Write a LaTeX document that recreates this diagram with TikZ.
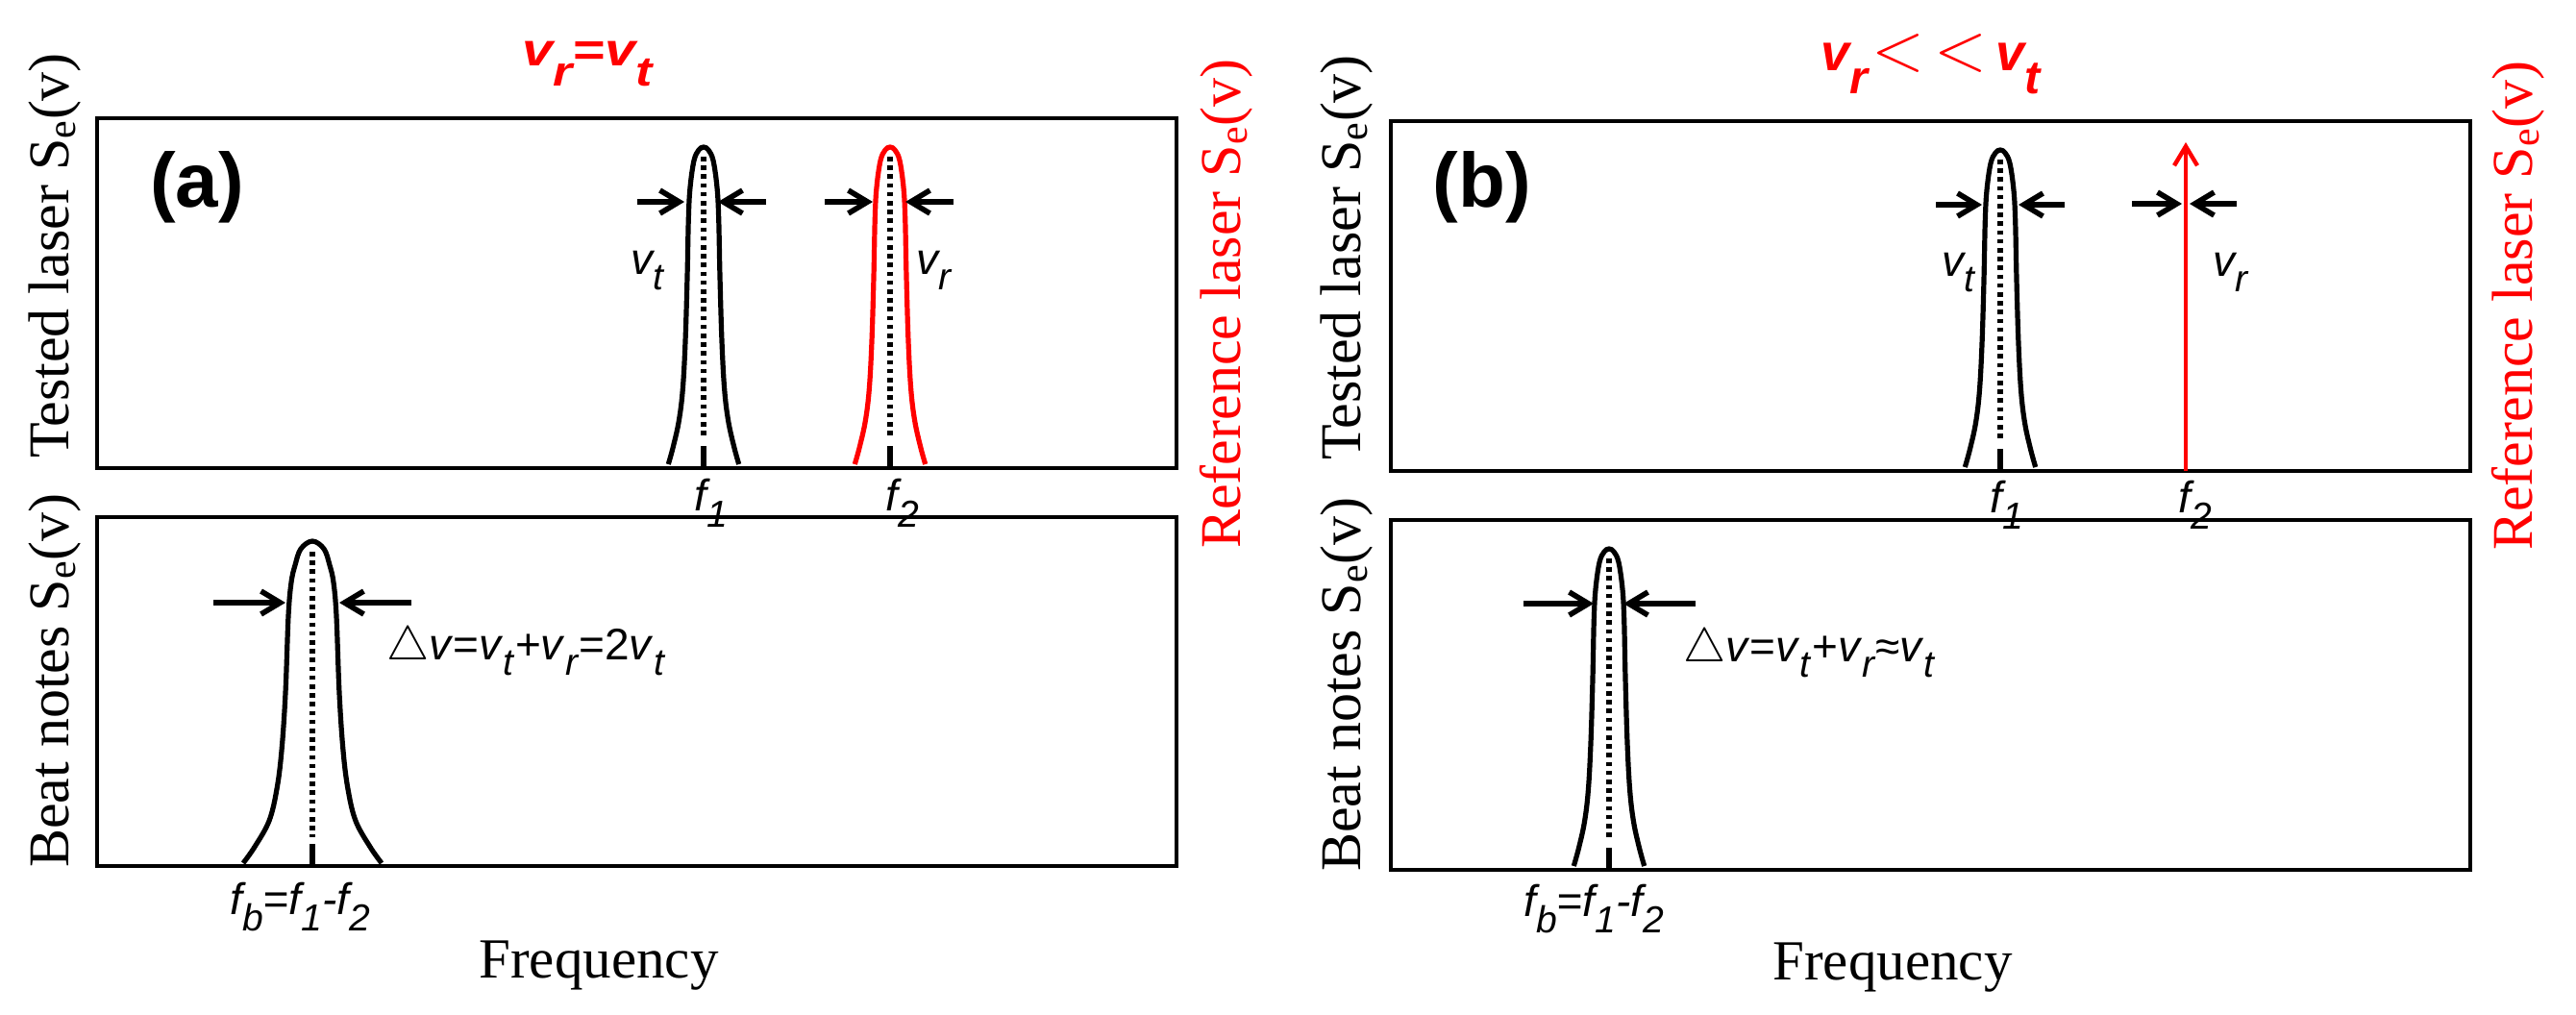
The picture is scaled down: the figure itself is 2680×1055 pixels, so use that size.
\documentclass[tikz,border=0pt]{standalone}
\usepackage{fontspec}
\setmainfont{Liberation Serif}
\setsansfont{Liberation Sans}
\usetikzlibrary{arrows.meta}
\definecolor{lred}{RGB}{255,0,0}
\newcommand\sbs[1]{\raisebox{-0.36em}{\scalebox{0.85}{#1}}}
\newcommand\tsbs[1]{\raisebox{-0.45em}{\scalebox{0.9}{#1}}}
\newcommand\bigless{{\fontsize{20}{20}\selectfont\scalebox{1.74}{\(<\)}}}
\newcommand\TopPeak[3]{%
  \draw[curve,#3,shift={(#1,#2)}] plot[smooth,tension=0.6] coordinates {
    (-36.7,-4) (-31.7,-22) (-25.7,-49) (-21.7,-82) (-19,-132) (-17,-199)
    (-15.7,-260) (-14,-292) (-10,-320) (-5,-331) (0,-334) (5,-331) (10,-320)
    (14,-292) (15.7,-260) (17,-199) (19,-132) (21.7,-82) (25.7,-49) (31.7,-22) (36.7,-4)};}
\newcommand\BeatPeak[2]{%
  \draw[curve,shift={(#1,#2)}] plot[smooth,tension=0.6] coordinates {
    (-72,-3) (-60,-20) (-45,-47) (-37,-80) (-32,-120) (-28,-180) (-25,-260)
    (-22,-295) (-18,-313) (-12,-330) (0,-338) (12,-330) (18,-313) (22,-295)
    (25,-260) (28,-180) (32,-120) (37,-80) (45,-47) (60,-20) (72,-3)};}
\newcommand\CenterLine[3]{% x, top y, baseline y
  \draw[cline] (#1,#2) -- (#1,#3-30);
  \draw[tickline] (#1,#3-23) -- (#1,#3);}
\begin{document}
\begin{tikzpicture}[x=0.5pt,y=-0.5pt,
  frame/.style={line width=2.2pt},
  curve/.style={line width=2.6pt,line join=round},
  cline/.style={line width=2.6pt,dash pattern=on 2.3pt off 2.3pt},
  tickline/.style={line width=2.6pt},
  warrow/.style={line width=2.8pt,-{Straight Barb[length=10pt,width=12pt]}},
  rarrow/.style={line width=2.2pt,draw=lred,-{Straight Barb[length=10pt,width=12pt]}},
  ylab/.style={font=\fontsize{30}{30}\selectfont,rotate=90,anchor=base,inner sep=0pt},
  freq/.style={font=\fontsize{29.5}{30}\selectfont,anchor=base,inner sep=0pt},
  plab/.style={font=\sffamily\bfseries\fontsize{40}{40}\selectfont,anchor=base,inner sep=0pt},
  ttl/.style={font=\sffamily\bfseries\itshape\fontsize{24}{24}\selectfont,text=lred,inner sep=0pt},
  ilab/.style={font=\sffamily\itshape\fontsize{23}{23}\selectfont,inner sep=0pt},
  flab/.style={font=\sffamily\fontsize{23}{23}\selectfont,inner sep=0pt,anchor=base west}]
\useasboundingbox (0,0) rectangle (2680,1055);
\fill[white] (0,0) rectangle (2680,1055);

% ---------------- panel (a) ----------------
\draw[frame] (101,123) rectangle (1224,487);
\draw[frame] (101,538) rectangle (1224,901);
\TopPeak{732}{487}{black}
\TopPeak{926}{487}{lred}
\CenterLine{732}{163}{487}
\CenterLine{926}{163}{487}
\BeatPeak{325}{901}
\CenterLine{325}{574}{901}
\draw[warrow] (663,210) -- (712,210);
\draw[warrow] (797,210) -- (747,210);
\draw[warrow] (858,210) -- (908,210);
\draw[warrow] (992,210) -- (942,210);
\draw[warrow] (222,627) -- (297,627);
\draw[warrow] (428,627) -- (353,627);

\node[ttl,anchor=base] (tia) at (611,68) {\scalebox{1.2}[1]{v\tsbs{r}=v\tsbs{t}}};
\node[plab] (pa) at (205,215) {(a)};
\node[ylab] (ta) at (71,266) {Tested laser S\textsubscript{e}(v)};
\node[ylab,text=lred] (ra) at (1290,316) {Reference laser S\textsubscript{e}(v)};
\node[ylab] (ba) at (71,708) {Beat notes S\textsubscript{e}(v)};
\node[freq] (fqa) at (623,1017) {Frequency};
\node[ilab,anchor=base west] (vta) at (656,285) {v\sbs{t}};
\node[ilab,anchor=base west] (vra) at (953,285) {v\sbs{r}};
\node[ilab,anchor=north west] (f1a) at (722,498) {f\sbs{1}};
\node[ilab,anchor=north west] (f2a) at (921,498) {f\sbs{2}};
\node[ilab,anchor=north west] (fba) at (239,918) {f\sbs{b}=f\sbs{1}-f\sbs{2}};
\node[flab] (dva) at (402,686) {\(\triangle\)\textit{v}=\textit{v}\sbs{\textit{t}}+\textit{v}\sbs{\textit{r}}=2\textit{v}\sbs{\textit{t}}};

% ---------------- panel (b) ----------------
\draw[frame] (1447,126) rectangle (2570,490);
\draw[frame] (1447,541) rectangle (2570,905);
\TopPeak{2081}{490}{black}
\CenterLine{2081}{166}{490}
\coordinate (rb0) at (2274,490);
\coordinate (rb1) at (2274,148);
\draw[rarrow] (rb0) -- (rb1);
\TopPeak{1674}{905}{black}
\CenterLine{1674}{581}{905}
\draw[warrow] (2014,213) -- (2062,213);
\draw[warrow] (2148,213) -- (2100,213);
\draw[warrow] (2218,212) -- (2270,212);
\draw[warrow] (2327,212) -- (2278,212);
\draw[warrow] (1585,628) -- (1658,628);
\draw[warrow] (1764,628) -- (1689,628);

\node[ttl,anchor=base west] (tib) at (1894,73) {\fontsize{27}{27}\selectfont v\tsbs{r}\hspace{2pt}\bigless\hspace{5pt}\bigless\hspace{4.5pt}v\tsbs{t}};
\node[plab] (pb) at (1542,215) {(b)};
\node[ylab] (tb) at (1415,268) {Tested laser S\textsubscript{e}(v)};
\node[ylab,text=lred] (rb) at (2634,318) {Reference laser S\textsubscript{e}(v)};
\node[ylab] (bb) at (1415,712) {Beat notes S\textsubscript{e}(v)};
\node[freq] (fqb) at (1969,1019) {Frequency};
\node[ilab,anchor=base west] (vtb) at (2020,287) {v\sbs{t}};
\node[ilab,anchor=base west] (vrb) at (2302,287) {v\sbs{r}};
\node[ilab,anchor=north west] (f1b) at (2070,500) {f\sbs{1}};
\node[ilab,anchor=north west] (f2b) at (2266,500) {f\sbs{2}};
\node[ilab,anchor=north west] (fbb) at (1585,920) {f\sbs{b}=f\sbs{1}-f\sbs{2}};
\node[flab] (dvb) at (1751,688) {\(\triangle\)\textit{v}=\textit{v}\sbs{\textit{t}}+\textit{v}\sbs{\textit{r}}≈\textit{v}\sbs{\textit{t}}};
\end{tikzpicture}
\end{document}
